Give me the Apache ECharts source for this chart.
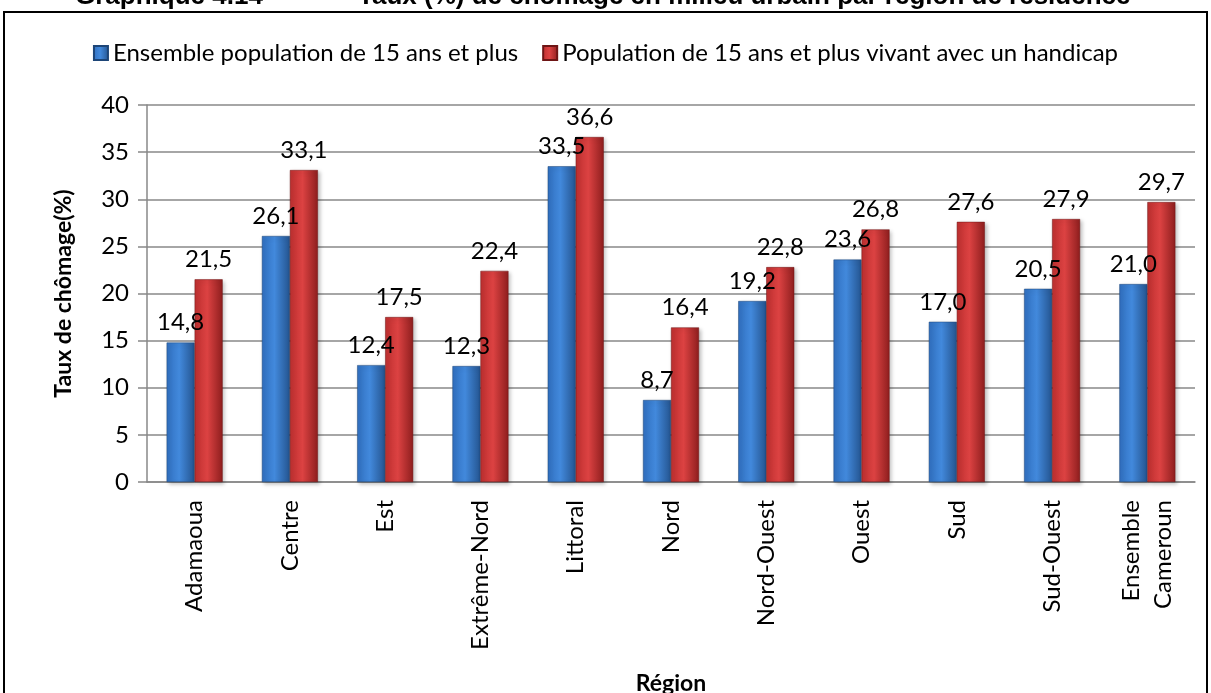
<!DOCTYPE html>
<html>
<head>
<meta charset="utf-8">
<script src="https://cdn.jsdelivr.net/npm/echarts@6/dist/echarts.min.js"></script>
<style>
html, body { margin: 0; padding: 0; background: #fff; }
#chart { width: 1211px; height: 693px; }
</style>
</head>
<body>
<div id="chart"></div>
<script>
// données
var regions = ['Adamaoua', 'Centre', 'Est', 'Extrême-Nord', 'Littoral', 'Nord', 'Nord-Ouest', 'Ouest', 'Sud', 'Sud-Ouest', 'Ensemble\nCameroun'];
var ensemble = [14.8, 26.1, 12.4, 12.3, 33.5, 8.7, 19.2, 23.6, 17.0, 20.5, 21.0];
var handicap = [21.5, 33.1, 17.5, 22.4, 36.6, 16.4, 22.8, 26.8, 27.6, 27.9, 29.7];
var yTicks = [0, 5, 10, 15, 20, 25, 30, 35, 40];

var font = 'Lato, "Open Sans", sans-serif';

function grad(c1, c2, c3) {
    return new echarts.graphic.LinearGradient(0, 0, 1, 0, [
        { offset: 0, color: c1 },
        { offset: 0.45, color: c2 },
        { offset: 1, color: c3 }
    ]);
}
var blue = grad('#306fbf', '#4289dc', '#24548f');
var red = grad('#bd2f2f', '#dc4242', '#8e1e1e');

function fmt(p) {
    return p.value.toFixed(1).replace('.', ',');
}

var dom = document.getElementById('chart');
var myChart = echarts.init(dom);
var option = {
    animation: false,
    graphic: [
        {
            type: 'rect',
            shape: { x: 4, y: 12, width: 1203, height: 700 },
            style: { fill: 'none', stroke: '#000', lineWidth: 2 }
        },
        {
            type: 'text', left: 75, top: -16,
            style: { text: 'Graphique 4.14', font: 'bold 26px "Liberation Sans", Arial', fill: '#000' }
        },
        {
            type: 'text', left: 358, top: -16,
            style: { text: 'Taux (%) de chômage en milieu urbain par région de résidence', font: 'bold 26px "Liberation Sans", Arial', fill: '#000' }
        }
    ],
    legend: {
        top: 36,
        left: 'center',
        itemWidth: 14,
        itemHeight: 14,
        itemGap: 24,
        icon: 'rect',
        textStyle: { fontFamily: font, fontSize: 24, color: '#000' },
        data: ['Ensemble population de 15 ans et plus', 'Population de 15 ans et plus vivant avec un handicap']
    },
    grid: { left: 147, right: 16, top: 105, bottom: 211, outerBoundsMode: 'none', containLabel: false },
    xAxis: {
        type: 'category',
        data: regions,
        name: 'Région',
        nameLocation: 'middle',
        nameGap: 190,
        nameTextStyle: { fontFamily: font, fontSize: 23, fontWeight: 'bold', color: '#000' },
        axisLine: { lineStyle: { color: '#888', width: 1.5 } },
        axisTick: { show: false },
        axisLabel: {
            interval: 0,
            rotate: 90,
            margin: 18,
            fontFamily: font,
            fontSize: 24,
            color: '#000',
            lineHeight: 32
        }
    },
    yAxis: {
        type: 'value',
        min: yTicks[0],
        max: yTicks[yTicks.length - 1],
        interval: 5,
        name: 'Taux de chômage(%)',
        nameLocation: 'middle',
        nameGap: 72,
        nameTextStyle: { fontFamily: font, fontSize: 23, fontWeight: 'bold', color: '#000' },
        axisLine: { show: true, lineStyle: { color: '#888', width: 1.5 } },
        axisTick: { show: true, length: 9, lineStyle: { color: '#888', width: 1.5 } },
        splitLine: { lineStyle: { color: '#888', width: 1.5 } },
        axisLabel: { fontFamily: font, fontSize: 24, color: '#000', margin: 18 }
    },
    series: [
        {
            name: 'Ensemble population de 15 ans et plus',
            type: 'bar',
            data: ensemble,
            barWidth: 28,
            barGap: '0%',
            itemStyle: { color: blue, borderColor: '#1d4577', borderWidth: 0.5, shadowColor: 'rgba(0,0,0,0.25)', shadowBlur: 4, shadowOffsetX: 2, shadowOffsetY: 2 },
            label: { show: true, position: 'top', distance: 8, formatter: fmt, fontFamily: font, fontSize: 24, color: '#000' }
        },
        {
            name: 'Population de 15 ans et plus vivant avec un handicap',
            type: 'bar',
            data: handicap,
            barWidth: 28,
            itemStyle: { color: red, borderColor: '#6e1515', borderWidth: 0.5, shadowColor: 'rgba(0,0,0,0.25)', shadowBlur: 4, shadowOffsetX: 2, shadowOffsetY: 2 },
            label: { show: true, position: 'top', distance: 8, formatter: fmt, fontFamily: font, fontSize: 24, color: '#000' }
        }
    ]
};
if (option && typeof option === "object") {
    myChart.setOption(option, true);
}
</script>
</body>
</html>
